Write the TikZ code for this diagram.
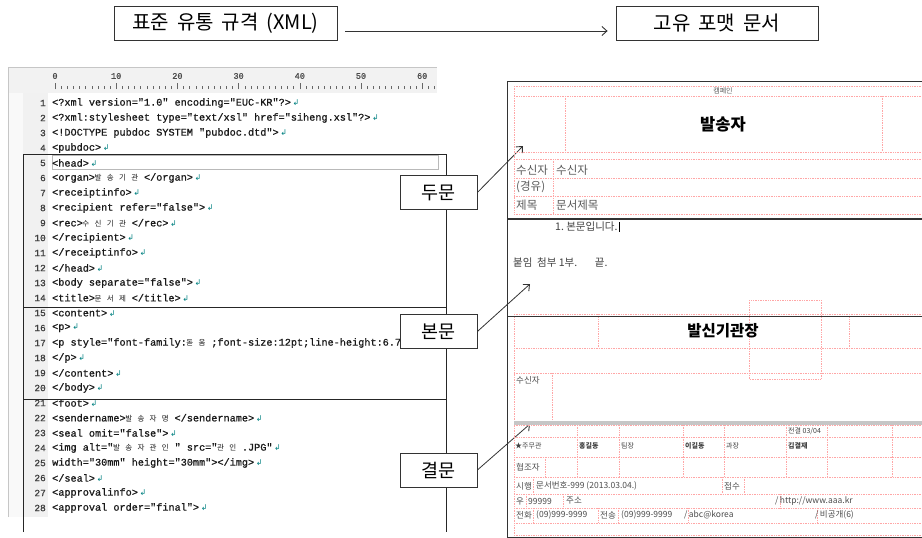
\documentclass[tikz,border=0pt]{standalone}
\usepackage{fontspec}
\setmainfont{Noto Sans CJK KR}
\newfontfamily\codefont{Liberation Mono}[FakeBold=0.9]
\newfontfamily\cjkfont{Noto Sans CJK KR}
\newfontfamily\symfont{DejaVu Sans}
\usetikzlibrary{arrows.meta}
\newcommand{\setfs}[1]{\fontsize{#1}{#1}\selectfont}
\newcommand{\widesp}{\spaceskip 0.4em\relax}
\newcommand{\kchar}[1]{\makebox[6.12pt]{\cjkfont\setfs{7.5}#1}}
\newcommand{\ret}{{\symfont\setfs{8}\textcolor{teal}{↲}}}

\begin{document}
\begin{tikzpicture}[x=1pt,y=-1pt,
  topbox/.style={draw=black!80,line width=0.8pt,minimum height=34pt,inner sep=0pt,font=\setfs{20}\widesp},
  part/.style={draw=black!80,fill=white,line width=0.8pt,minimum width=77pt,minimum height=34pt,inner sep=0pt,font=\setfs{18.5}},
  link/.style={-{Straight Barb[length=5pt,width=9pt,line width=0.9pt]},black!80,line width=0.8pt},
  section/.style={draw=black!85,line width=0.8pt},
  codeline/.style={anchor=west,inner sep=0pt,font=\codefont\setfs{10.2},text=black!90},
  lineno/.style={anchor=east,inner sep=0pt,font=\codefont\setfs{9.5},text=black!75},
  rulernum/.style={inner sep=0pt,font=\codefont\setfs{8.5},text=black!70},
  pink/.style={red!35,densely dotted,line width=0.7pt},
  frame/.style={black!80,line width=0.9pt},
  doctext/.style={anchor=west,inner sep=0pt,text=black!65,font=\setfs{11.5}},
  bodytext/.style={anchor=west,inner sep=0pt,text=black!75,font=\setfs{10.5}},
  foottext/.style={anchor=west,inner sep=0pt,text=black!70,font=\setfs{8.5}},
  signtext/.style={anchor=west,inner sep=0pt,text=black!75,font=\setfs{7}}]
  \useasboundingbox (0,0) rectangle (922,538);

  % title row
  \node[topbox,minimum width=223pt] (std) at (225.5,23) {표준 유통 규격 (XML)};
  \node[topbox,minimum width=202pt] (own) at (717,23) {고유 포맷 문서};
  \draw[link] ([xshift=8pt,yshift=-8pt]std.east) -- ([xshift=-8pt,yshift=-8pt]own.west);

  % editor panel
  \fill[gray!10] (8,67) rectangle (437,93);
  \fill[gray!5] (8,93) rectangle (23,517);
  \fill[gray!11] (23,93) rectangle (48,517);
  \draw[gray!45] (8,517) -- (8,67) -- (437,67);
  \foreach \k in {0,...,62}
    \draw[black!60,line width=0.4pt] ({55+6.12*\k},89) -- ({55+6.12*\k},86);
  \foreach \k in {0,10,...,60}
    \draw[black!60,line width=0.4pt] ({55+6.12*\k},89) -- ({55+6.12*\k},83);
  \foreach \k in {0,10,...,60}
    \node[rulernum] (r\k) at ({55+6.12*\k},76) {\k};
  \draw[gray!55,line width=0.5pt] (52,155.5) rectangle (438,169.5);

  \foreach \src [count=\lno] in {
    {<?xml version="1.0" encoding="EUC-KR"?>},
    {<?xml:stylesheet type="text/xsl" href="siheng.xsl"?>},
    {<!DOCTYPE pubdoc SYSTEM "pubdoc.dtd">},
    {<pubdoc>},
    {<head>},
    {<organ>\kchar{발} \kchar{송} \kchar{기} \kchar{관} </organ>},
    {<receiptinfo>},
    {<recipient refer="false">},
    {<rec>\kchar{수} \kchar{신} \kchar{기} \kchar{관} </rec>},
    {</recipient>},
    {</receiptinfo>},
    {</head>},
    {<body separate="false">},
    {<title>\kchar{문} \kchar{서} \kchar{제} </title>},
    {<content>},
    {<p>},
    {<p style="font-family:\kchar{돋} \kchar{움} ;font-size:12pt;line-height:6.7},
    {</p>},
    {</content>},
    {</body>},
    {<foot>},
    {<sendername>\kchar{발} \kchar{송} \kchar{자} \kchar{명} </sendername>},
    {<seal omit="false">},
    {<img alt="\kchar{발} \kchar{송} \kchar{자} \kchar{관} \kchar{인} " src="\kchar{관} \kchar{인} .JPG"},
    {width="30mm" height="30mm"></img>},
    {</seal>},
    {<approvalinfo>},
    {<approval order="final">}} {
    \node[lineno] (n\lno) at (46,{103+15*(\lno-1)}) {\lno};
    \node[codeline] (c\lno) at (52,{103+15*(\lno-1)}) {\src\,\ret};
  }

  % parts of the xml
  \draw[section] (23,154) rectangle (446,307);
  \draw[section] (23,307) rectangle (446,399);
  \draw[section] (23,532) -- (23,399) -- (446,399) -- (446,532);

  \node[part] (head) at (438.5,192.5) {두문};
  \node[part] (body) at (438.5,331.5) {본문};
  \node[part] (foot) at (438.5,470) {결문};
  \coordinate (headtip) at (523,146);
  \coordinate (bodytip) at (530,284);
  \coordinate (foottip) at (530,424);
  \draw[link] (head.east) -- (headtip);
  \draw[link] (body.east) -- (bodytip);
  \draw[link] (foot.east) -- (foottip);

  % document, head
  \foreach \y in {86,96,152,159,178,196,214}
    \draw[pink] (514,\y) -- (922,\y);
  \draw[pink] (514,86) -- (514,214);
  \draw[pink] (565,96) -- (565,152);
  \draw[pink] (882,96) -- (882,152);
  \draw[pink] (553,159) -- (553,214);
  \node[inner sep=0pt,text=black!65,font=\setfs{7}] (campaign) at (723,91) {캠페인};
  \node[inner sep=0pt,font=\bfseries\setfs{16.5}] (sender) at (723,124) {발송자};
  \node[doctext] (rcvlabel) at (516,170) {수신자};
  \node[doctext] (rcv) at (556,170) {수신자};
  \node[doctext] (via) at (516,187) {(경유)};
  \node[doctext] (subjlabel) at (516,205) {제목};
  \node[doctext] (subj) at (556,205) {문서제목};

  % document, body
  \node[bodytext] (para) at (555,227) {1.\ 본문입니다.};
  \draw[black,line width=0.8pt] ([xshift=1.5pt]para.north east) -- ([xshift=1.5pt]para.south east);
  \node[bodytext] (attach) at (513,263) {붙임\ \ 첨부 1부.\quad\ \ \ 끝.};

  % document, foot
  \foreach \y in {314,348,373,425,437,457,477,494,508,523,535}
    \draw[pink] (514,\y) -- (922,\y);
  \draw[pink] (514,314) -- (514,535);
  \draw[pink] (598,314) -- (598,348);
  \draw[pink] (849,314) -- (849,348);
  \draw[pink] (552,373) -- (552,421);
  \draw[pink] (749,300) rectangle (821,379);
  \fill[gray!45] (514,421) rectangle (922,425);
  \foreach \x in {577,619,683,724,786,827,892}
    \draw[pink] (\x,425) -- (\x,477);
  \draw[pink] (545,457) -- (545,477);
  \foreach \x in {533,722,744}
    \draw[pink] (\x,477) -- (\x,494);
  \foreach \x in {526,563,780}
    \draw[pink] (\x,494) -- (\x,508);
  \foreach \x in {533,598,618,688,817}
    \draw[pink] (\x,508) -- (\x,523);

  \node[inner sep=0pt,font=\bfseries\setfs{15.5}] (chief) at (723,331) {발신기관장};
  \node[foottext] (rcv2) at (516,380) {수신자};
  \node[signtext] (decide) at (788,431) {전결 03/04};
  \node[signtext] (drafter) at (515,446) {★주무관};
  \node[signtext,font=\bfseries\setfs{7}] (name1) at (579,446) {홍길동};
  \node[signtext] (lead) at (621,446) {팀장};
  \node[signtext,font=\bfseries\setfs{7}] (name2) at (685,446) {이길동};
  \node[signtext] (chiefsec) at (726,446) {과장};
  \node[signtext,font=\bfseries\setfs{7}] (name3) at (788,446) {김결재};
  \node[foottext] (coop) at (516,467) {협조자};
  \node[foottext] (exec) at (516,486) {시행};
  \node[foottext] (docno) at (536,486) {문서번호-999 (2013.03.04.)};
  \node[foottext] (recv) at (724,486) {접수};
  \node[foottext] (zip) at (516,501) {우};
  \node[foottext] (zipno) at (528,501) {99999};
  \node[foottext] (addr) at (566,501) {주소};
  \node[foottext] (url) at (775,501) {/\,http://www.aaa.kr};
  \node[foottext] (tel) at (516,515) {전화};
  \node[foottext] (telno) at (536,515) {(09)999-9999};
  \node[foottext] (fax) at (600,515) {전송};
  \node[foottext] (faxno) at (621,515) {(09)999-9999};
  \node[foottext] (mail) at (684,515) {/\,abc@korea};
  \node[foottext] (open) at (815,515) {/\,비공개(6)};

  % document frame
  \draw[frame] (507,538) -- (507,81) -- (922,81);
  \draw[frame,line width=1.4pt] (507,219) -- (922,219);
  \draw[frame] (507,316) -- (922,316);
  \draw[frame] (507,537) -- (922,537);
\end{tikzpicture}
\end{document}
